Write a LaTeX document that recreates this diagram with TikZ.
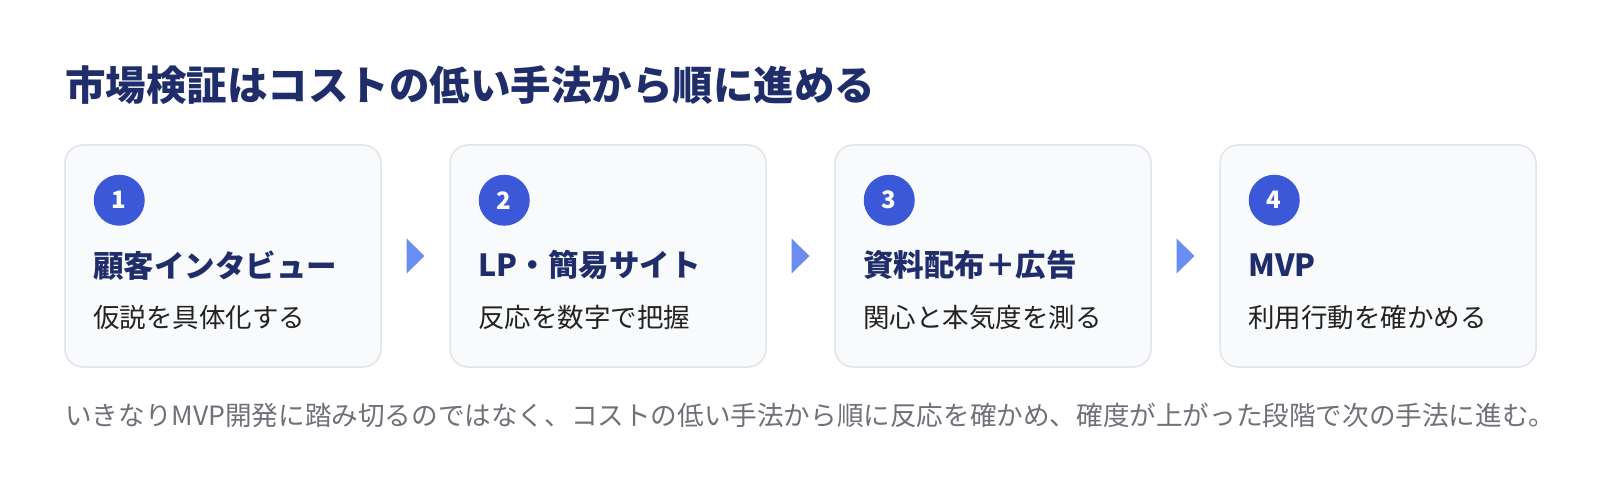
\documentclass[tikz,border=0pt]{standalone}
\usepackage{fontspec}
\setmainfont{Noto Sans CJK JP}
\usetikzlibrary{calc,positioning}
\definecolor{titlenavy}{HTML}{1F2D6B}
\definecolor{stepblue}{HTML}{3B58D8}
\definecolor{arrowblue}{HTML}{6B8CF0}
\definecolor{boxfill}{HTML}{F8FAFC}
\definecolor{boxline}{HTML}{E1E4E8}
\definecolor{notegray}{HTML}{6E7179}
\definecolor{bodytext}{HTML}{222222}

\begin{document}
\begin{tikzpicture}[x=1pt,y=-1pt,
  stepbox/.style={draw=boxline, line width=1.5pt, fill=boxfill, rounded corners=18pt,
    minimum width=316pt, minimum height=222pt, inner sep=0pt},
  stepnum/.style={circle, fill=stepblue, text=white, minimum size=51pt, inner sep=0pt,
    font=\fontsize{24}{26}\selectfont\bfseries},
  steptitle/.style={anchor=west, inner sep=0pt, text=titlenavy,
    font=\fontsize{30.5}{33}\selectfont\bfseries},
  stepnote/.style={anchor=west, inner sep=0pt, text=bodytext,
    font=\fontsize{26.5}{29}\selectfont},
  flowarrow/.style={fill=arrowblue}]
\useasboundingbox[fill=white] (0,0) rectangle (1600,494);

% Heading
\node[anchor=west, inner sep=0pt, text=titlenavy, font=\fontsize{40.5}{44}\selectfont\bfseries]
  (heading) at (65,85) {市場検証はコストの低い手法から順に進める};

% Steps
\foreach \i/\name/\note in {1/顧客インタビュー/仮説を具体化する,
    2/LP・簡易サイト/反応を数字で把握,
    3/資料配布＋広告/関心と本気度を測る,
    4/MVP/利用行動を確かめる} {
  \node[stepbox] (b\i) at (223+385*\i-385,256) {};
  \node[stepnum] (n\i) at ($(b\i.north west)+(55,56)$) {\i};
  \node[steptitle] (t\i) at ($(b\i.north west)+(29,121)$) {\name};
  \node[stepnote] (s\i) at ($(b\i.north west)+(29,173)$) {\note};
}

% Arrows between steps
\foreach \i [evaluate=\i as \j using int(\i+1)] in {1,2,3}
  \fill[flowarrow] ($(b\i.east)!0.5!(b\j.west)+(-9,-17.5)$) -- ++(18,17.5) -- ++(-18,17.5) -- cycle;

% Footnote
\node[anchor=west, inner sep=0pt, text=notegray, font=\fontsize{26.6}{29}\selectfont]
  (footer) at (65,415) {いきなりMVP開発に踏み切るのではなく、コストの低い手法から順に反応を確かめ、確度が上がった段階で次の手法に進む。};
\end{tikzpicture}
\end{document}
